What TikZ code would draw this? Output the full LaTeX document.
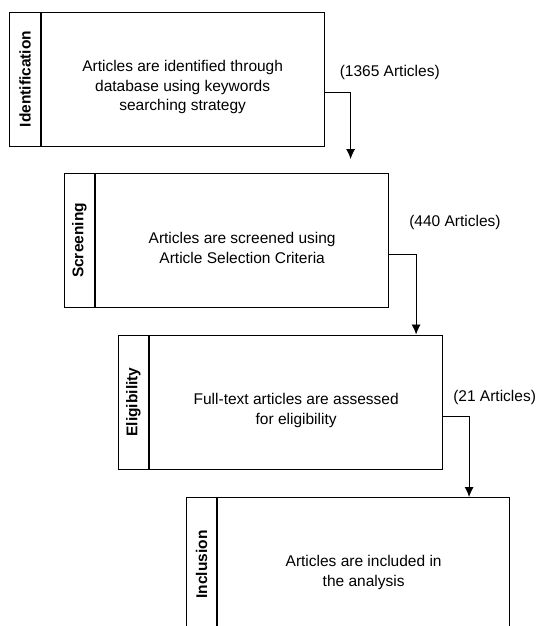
\documentclass[tikz,border=0pt]{standalone}
\usepackage{fontspec}
\setmainfont{Liberation Sans}
\usetikzlibrary{calc}
\usetikzlibrary{positioning}
\usetikzlibrary{arrows.meta}

\begin{document}
\begin{tikzpicture}[x=1pt,y=1pt,>={Latex[length=10pt,width=9pt]},
stage/.style={draw,line width=0.9pt,minimum width=#1,minimum height=134pt,inner sep=0pt,anchor=west},
note/.style={inner sep=0pt,align=center,font=\fontsize{15.5}{20}\selectfont},
phase/.style={draw,line width=0.9pt,minimum width=134pt,minimum height=30.5pt,inner sep=0pt,rotate=90,font=\fontsize{15.5}{20}\selectfont\bfseries},
count/.style={anchor=west,inner sep=0pt,font=\fontsize{15.5}{20}\selectfont},
link/.style={->,line width=0.9pt}]

\useasboundingbox (0,0) rectangle (539,626);
\clip (0,0) rectangle (539,626);

% stages
\node[phase] (p1) at (25,547) {Identification};
\node[stage=283pt] (b1) at (p1.south) {};
\node[note] (t1) at ([yshift=-8pt]b1.center) {Articles are identified through\\database using keywords\\searching strategy};

\node[phase] (p2) at (79.5,385.5) {Screening};
\node[stage=293pt] (b2) at (p2.south) {};
\node[note] (t2) at ([yshift=-7pt]b2.center) {Articles are screened using\\ Article Selection Criteria};

\node[phase] (p3) at (133.5,224) {Eligibility};
\node[stage=293pt] (b3) at (p3.south) {};
\node[note] (t3) at ([yshift=-8pt]b3.center) {Full-text articles are assessed\\for eligibility};

\node[phase] (p4) at (201.5,61.5) {Inclusion};
\node[stage=292pt] (b4) at (p4.south) {};
\node[note] (t4) at ([yshift=-8pt]b4.center) {Articles are included in\\the analysis};

% counts
\node[count] (n1) at ([xshift=15pt,yshift=7pt]b1.east) {(1365 Articles)};
\node[count] (n2) at ([xshift=20pt,yshift=18.5pt]b2.east) {(440 Articles)};
\node[count] (n3) at ([xshift=10pt,yshift=5pt]b3.east) {(21 Articles)};

% links
\coordinate (k1) at ([xshift=26pt]b1.east);
\coordinate (k2) at ([xshift=27pt]b2.east);
\coordinate (k3) at ([xshift=26pt]b3.east);
\draw[link,shorten >=14pt] ([yshift=-13pt]b1.east) -| (k1 |- b2.north);
\draw[link] ([yshift=-13.5pt]b2.east) -| (k2 |- b3.north);
\draw[link] ([yshift=-14pt]b3.east) -| (k3 |- b4.north);
\end{tikzpicture}
\end{document}
